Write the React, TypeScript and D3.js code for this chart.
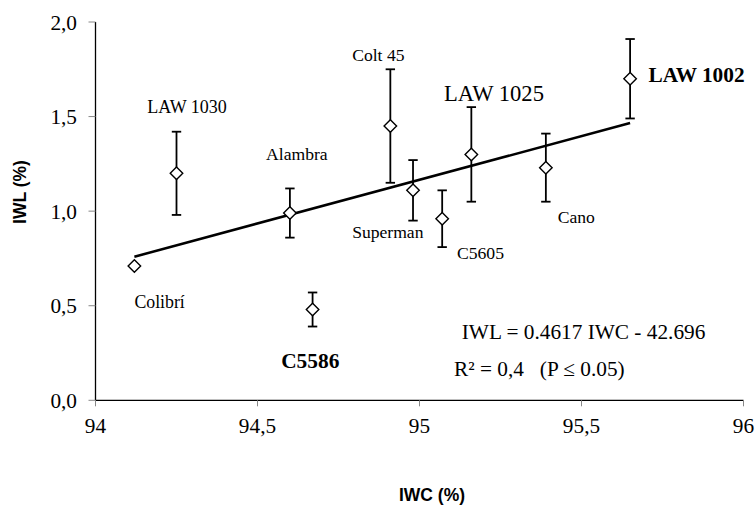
import React from "react";
import * as d3 from "d3";

// ---- data ----
const cultivars = ["Colibrí", "LAW 1030", "Alambra", "C5586", "Colt 45", "Superman", "C5605", "LAW 1025", "Cano", "LAW 1002"];
const iwcValues = [94.12, 94.25, 94.6, 94.67, 94.91, 94.98, 95.07, 95.16, 95.39, 95.65];
const iwlValues = [0.71, 1.2, 0.99, 0.48, 1.45, 1.11, 0.96, 1.3, 1.23, 1.7];
const iwlErrors = [0, 0.22, 0.13, 0.09, 0.3, 0.16, 0.15, 0.25, 0.18, 0.21];
const slope = 0.4617;
const intercept = -42.696;
const xTicks = [94, 94.5, 95, 95.5, 96];
const yTicks = [0, 0.5, 1, 1.5, 2];
const equationText = "IWL = 0.4617 IWC - 42.696";
const r2Text = "R\u00B2 = 0,4   (P \u2264 0.05)";

// ---- label layout (pixel offsets from point) ----
const labelLayout: Record<string, { dx: number; dy: number; anchor: string; size: number; bold?: boolean }> = {
  "Colibrí": { dx: 0, dy: 41.5, anchor: "start", size: 17.8 },
  "LAW 1030": { dx: 10.5, dy: -60.4, anchor: "middle", size: 18 },
  "Alambra": { dx: 7, dy: -52.7, anchor: "middle", size: 17.6 },
  "C5586": { dx: -2.3, dy: 58.6, anchor: "middle", size: 21.4, bold: true },
  "Colt 45": { dx: -12, dy: -64.7, anchor: "middle", size: 17.6 },
  "Superman": { dx: -25.2, dy: 47.6, anchor: "middle", size: 17.6 },
  "C5605": { dx: 38.3, dy: 40.3, anchor: "middle", size: 17.7 },
  "LAW 1025": { dx: 22.6, dy: -53.6, anchor: "middle", size: 22.6 },
  "Cano": { dx: 30.5, dy: 55, anchor: "middle", size: 17.6 },
  "LAW 1002": { dx: 18.4, dy: 3, anchor: "start", size: 21.3, bold: true },
};

const W = 756;
const H = 506;
const serif = "'Liberation Serif', 'Times New Roman', serif";
const sans = "'Liberation Sans', Arial, sans-serif";

export default function App() {
  const x = d3.scaleLinear().domain([94, 96]).range([95.5, 743.5]);
  const y = d3.scaleLinear().domain([0, 2]).range([400.3, 22]);
  const fmt = (v: number) => (Number.isInteger(v) ? String(v) : String(v).replace(".", ","));
  const fmtY = (v: number) => d3.format(".1f")(v).replace(".", ",");

  const xMin = d3.min(iwcValues) as number;
  const xMax = d3.max(iwcValues) as number;
  const line = d3
    .line<number>()
    .x((d) => x(d))
    .y((d) => y(slope * d + intercept));

  const diamond = d3.symbol().type(d3.symbolDiamond2).size(100)();
  const capW = 4.7;

  return (
    <svg width={W} height={H} style={{ position: "absolute", left: 0, top: 0, background: "#fff" }}>
      {/* axes */}
      <line x1={x(94)} x2={x(94)} y1={y(0)} y2={y(2)} stroke="#000" strokeWidth={1.3} />
      <line x1={x(94)} x2={x(96)} y1={y(0)} y2={y(0)} stroke="#000" strokeWidth={1.3} />
      {yTicks.map((t) => (
        <g key={"y" + t}>
          <line x1={x(94) - 7} x2={x(94)} y1={y(t)} y2={y(t)} stroke="#888" strokeWidth={1} />
          <text x={77} y={y(t) + 7.5} textAnchor="end" fontFamily={serif} fontSize={21.3} fill="#000">
            {fmtY(t)}
          </text>
        </g>
      ))}
      {xTicks.map((t) => (
        <g key={"x" + t}>
          <line x1={x(t)} x2={x(t)} y1={y(0)} y2={y(0) + 6} stroke="#888" strokeWidth={1} />
          <text x={x(t)} y={433} textAnchor="middle" fontFamily={serif} fontSize={21.3} fill="#000">
            {fmt(t)}
          </text>
        </g>
      ))}
      {/* axis titles */}
      <text x={432} y={501} textAnchor="middle" fontFamily={sans} fontWeight="bold" fontSize={17.5} fill="#000">
        IWC (%)
      </text>
      <text
        transform={`translate(25.5,192) rotate(-90)`}
        textAnchor="middle"
        fontFamily={sans}
        fontWeight="bold"
        fontSize={17.5}
        fill="#000"
      >
        IWL (%)
      </text>

      {/* regression line */}
      <path d={line([xMin, xMax]) || ""} fill="none" stroke="#000" strokeWidth={2.6} />

      {/* error bars and points */}
      {cultivars.map((c, i) => {
        const cx = x(iwcValues[i]);
        const cy = y(iwlValues[i]);
        const e = iwlErrors[i];
        return (
          <g key={c}>
            {e > 0 && (
              <g stroke="#000" strokeWidth={1.8}>
                <line x1={cx} x2={cx} y1={y(iwlValues[i] + e)} y2={y(iwlValues[i] - e)} />
                <line x1={cx - capW} x2={cx + capW} y1={y(iwlValues[i] + e)} y2={y(iwlValues[i] + e)} />
                <line x1={cx - capW} x2={cx + capW} y1={y(iwlValues[i] - e)} y2={y(iwlValues[i] - e)} />
              </g>
            )}
            <path d={diamond || ""} transform={`translate(${cx},${cy})`} fill="#fff" stroke="#000" strokeWidth={1.4} />
          </g>
        );
      })}

      {/* labels */}
      {cultivars.map((c, i) => {
        const l = labelLayout[c];
        return (
          <text
            key={"l" + c}
            x={x(iwcValues[i]) + l.dx}
            y={y(iwlValues[i]) + l.dy}
            textAnchor={l.anchor as any}
            fontFamily={serif}
            fontSize={l.size}
            fontWeight={l.bold ? "bold" : "normal"}
            fill="#000"
          >
            {c}
          </text>
        );
      })}

      {/* equation */}
      <text x={461.7} y={339.3} fontFamily={serif} fontSize={21.3} fill="#000">
        {equationText}
      </text>
      <text x={454} y={376} fontFamily={serif} fontSize={21.3} fill="#000" style={{ whiteSpace: "pre" }}>
        {r2Text}
      </text>
    </svg>
  );
}
